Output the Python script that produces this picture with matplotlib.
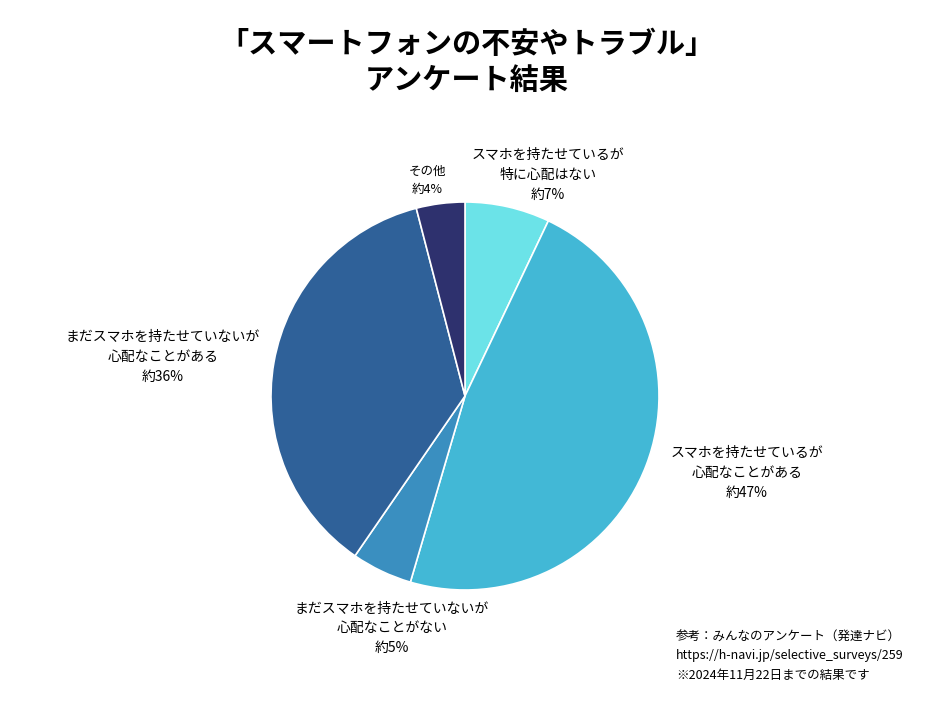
import matplotlib
matplotlib.use('Agg')
import matplotlib.pyplot as plt

plt.rcParams['font.family'] = 'Noto Sans CJK JP'

labels = ['スマホを持たせているが\n特に心配はない\n約7%',
          'スマホを持たせているが\n心配なことがある\n約47%',
          'まだスマホを持たせていないが\n心配なことがない\n約5%',
          'まだスマホを持たせていないが\n心配なことがある\n約36%',
          'その他\n約4%']
values = [7, 47, 5, 36, 4]
colors = ['#6be3e8', '#42b8d6', '#3a8fc0', '#2f6199', '#2e316e']

W, H = 934, 711
fig = plt.figure(figsize=(W / 100, H / 100), dpi=100)

cx, cy, r = 465, 396, 194
ax = fig.add_axes([(cx - r) / W, 1 - (cy + r) / H, 2 * r / W, 2 * r / H])
ax.pie(values, colors=colors, startangle=90, counterclock=False,
       wedgeprops=dict(edgecolor='white', linewidth=1.2))
ax.set_xlim(-1, 1)
ax.set_ylim(-1, 1)
ax.set_aspect('auto')

def px(x, y, s, **kw):
    fig.text(x / W, 1 - y / H, s, **kw)

px(467, 62, '「スマートフォンの不安やトラブル」\nアンケート結果', ha='center', va='center',
   fontsize=21, fontweight='bold', linespacing=1.25)

# slice labels (x, y, alignment)
pos = [(548, 175, 'center'), (747, 473, 'center'), (392, 628, 'center'),
       (163, 357, 'center'), (427, 180, 'center')]
sizes = [10, 10, 10, 10, 9]
for (x, y, ha), s, fs in zip(pos, labels, sizes):
    px(x, y, s, ha=ha, va='center', fontsize=fs, linespacing=1.5)

px(676, 656, '参考：みんなのアンケート（発達ナビ）\nhttps://h-navi.jp/selective_surveys/259\n※2024年11月22日までの結果です',
   ha='left', va='center', fontsize=9, linespacing=1.6)

fig.savefig('out.png', dpi=100, facecolor='white')
